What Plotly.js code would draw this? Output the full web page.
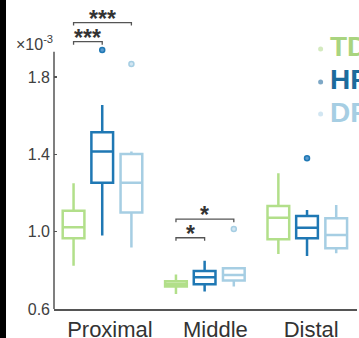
<!DOCTYPE html>
<html>
<head>
<meta charset="utf-8">
<script src="https://cdn.plot.ly/plotly-3.0.1.min.js"></script>
<style>
  html, body { margin: 0; padding: 0; background: #fff; }
  #chart { width: 359px; height: 338px; }
</style>
</head>
<body>
<div id="chart"></div>
<script>
// ---- data (values ×10^-3) ----
var groups = ['Proximal', 'Middle', 'Distal'];
var seriesNames = ['TD', 'HF', 'DF'];

var tdLower  = [0.824, 0.678, 0.885];
var tdQ1     = [0.966, 0.716, 0.961];
var tdMedian = [1.023, 0.730, 1.073];
var tdQ3     = [1.109, 0.744, 1.133];
var tdUpper  = [1.251, 0.779, 1.303];

var hfLower  = [0.980, 0.690, 0.874];
var hfQ1     = [1.254, 0.728, 0.966];
var hfMedian = [1.415, 0.764, 1.021];
var hfQ3     = [1.515, 0.797, 1.082];
var hfUpper  = [1.656, 0.850, 1.113];

var dfLower  = [0.919, 0.716, 0.888];
var dfQ1     = [1.099, 0.747, 0.914];
var dfMedian = [1.254, 0.776, 0.983];
var dfQ3     = [1.403, 0.811, 1.070];
var dfUpper  = [1.415, 0.811, 1.139];

// outliers: group index + value
var tdOutGroup = [];        var tdOutValue = [];
var hfOutGroup = [0, 2];    var hfOutValue = [1.941, 1.380];
var dfOutGroup = [0, 1];    var dfOutValue = [1.869, 1.014];

// significance brackets
var sigGroup  = [0, 0, 1, 1];
var sigFrom   = [0, 0, 0, 0];   // series index
var sigTo     = [1, 2, 1, 2];   // series index
var sigHeight = [1.984, 2.083, 0.969, 1.065];
var sigLabel  = ['***', '***', '*', '*'];

var yTickVals = [0.6, 1.0, 1.4, 1.8];
var yTickText = ['0.6', '1.0', '1.4', '1.8'];

// ---- styling ----
var colors     = ['#b2df8a', '#1f78b4', '#a6cee3'];
var textColors = ['#a9d47f', '#1c6b9c', '#a6cee3'];
var dotColors  = ['#d4eabf', '#7ea8c6', '#d2e6f2'];
var outFill    = ['#d4eabf', '#5b9bd0', '#d2e6f2'];
var offsets = [-0.28, 0, 0.285];
var boxW = 0.212;
var FONT = 'Arial, "Liberation Sans", sans-serif';
var axisGray = '#555555';

var stats = [
  [tdLower, tdQ1, tdMedian, tdQ3, tdUpper],
  [hfLower, hfQ1, hfMedian, hfQ3, hfUpper],
  [dfLower, dfQ1, dfMedian, dfQ3, dfUpper]
];
var outliers = [[tdOutGroup, tdOutValue], [hfOutGroup, hfOutValue], [dfOutGroup, dfOutValue]];

function xPos(g, s) { return (g + 1) + offsets[s]; }

var traces = [];
for (var s = 0; s < 3; s++) {
  var st = stats[s];
  traces.push({
    type: 'box',
    name: seriesNames[s],
    x: groups.map(function (_, g) { return xPos(g, s); }),
    lowerfence: st[0], q1: st[1], median: st[2], q3: st[3], upperfence: st[4],
    width: boxW,
    whiskerwidth: 0,
    fillcolor: 'rgba(0,0,0,0)',
    line: { color: colors[s], width: 2.5 },
    boxpoints: false,
    hoverinfo: 'skip',
    showlegend: false
  });
  var og = outliers[s][0], ov = outliers[s][1];
  if (og.length) {
    traces.push({
      type: 'scatter', mode: 'markers',
      x: og.map(function (g) { return xPos(g, s); }),
      y: ov,
      marker: { size: 5, color: outFill[s], line: { color: colors[s], width: 1.5 } },
      cliponaxis: false, showlegend: false, hoverinfo: 'skip'
    });
  }
}

var shapes = [];
var annotations = [];

// left black strip
shapes.push({ type: 'rect', xref: 'paper', yref: 'paper',
  x0: -0.19, x1: -0.1584, y0: -0.12, y1: 1.06,
  fillcolor: '#000', line: { width: 0 } });

// y axis line (only up to 1.93)
shapes.push({ type: 'line', xref: 'paper', yref: 'y',
  x0: 0, x1: 0, y0: 0.6, y1: 1.932,
  line: { color: axisGray, width: 1.5 } });

// significance brackets
var drop = 0.0155;
for (var k = 0; k < sigGroup.length; k++) {
  var xa = xPos(sigGroup[k], sigFrom[k]);
  var xb = xPos(sigGroup[k], sigTo[k]);
  var h = sigHeight[k];
  shapes.push({ type: 'path', xref: 'x', yref: 'y',
    path: 'M' + xa + ',' + (h - drop) + ' L' + xa + ',' + h + ' L' + xb + ',' + h + ' L' + xb + ',' + (h - drop),
    line: { color: '#555', width: 1.3 } });
  annotations.push({ x: (xa + xb) / 2, y: h, xref: 'x', yref: 'y',
    text: '<b>' + sigLabel[k] + '</b>', showarrow: false,
    yanchor: 'bottom', yshift: -11,
    font: { family: FONT, size: 23, color: '#333' } });
}

// exponent label
annotations.push({ xref: 'paper', yref: 'paper', x: 0.004, y: 0.89,
  xanchor: 'right', yanchor: 'middle', showarrow: false,
  text: '×10<sup>-3</sup>', font: { family: FONT, size: 16, color: '#404040' } });

// legend (manual)
var legY = [0.879, 0.768, 0.658];
var dotY = [0.8696, 0.759, 0.652];
for (var s2 = 0; s2 < 3; s2++) {
  annotations.push({ xref: 'paper', yref: 'paper', x: 0.903, y: legY[s2],
    xanchor: 'left', yanchor: 'middle', showarrow: false,
    text: '<b>' + seriesNames[s2] + '</b>',
    font: { family: FONT, size: 28, color: textColors[s2] } });
  shapes.push({ type: 'circle', xref: 'paper', yref: 'paper',
    x0: 0.880 - 0.0083, x1: 0.880 + 0.0083,
    y0: dotY[s2] - 0.0084, y1: dotY[s2] + 0.0084,
    fillcolor: dotColors[s2], line: { width: 0 } });
}

var layout = {
  width: 359, height: 338,
  margin: { l: 54, r: 2, t: 10, b: 29, pad: 0 },
  paper_bgcolor: '#fff', plot_bgcolor: '#fff',
  showlegend: false,
  font: { family: FONT, color: '#404040' },
  xaxis: {
    range: [0.529, 3.488],
    tickvals: [1.075, 2.105, 3.04],
    ticktext: groups,
    ticks: '', showgrid: false, zeroline: false,
    showline: true, linecolor: axisGray, linewidth: 1.5,
    tickfont: { family: FONT, size: 22, color: '#333' }
  },
  yaxis: {
    range: [0.6, 2.148],
    tickvals: yTickVals, ticktext: yTickText,
    ticks: 'inside', ticklen: 3, tickwidth: 1.5, tickcolor: axisGray,
    ticklabelstandoff: 3,
    showgrid: false, zeroline: false, showline: false,
    tickfont: { family: FONT, size: 16, color: '#404040' }
  },
  shapes: shapes,
  annotations: annotations
};

Plotly.newPlot('chart', traces, layout, { staticPlot: true, displayModeBar: false });
</script>
</body>
</html>
